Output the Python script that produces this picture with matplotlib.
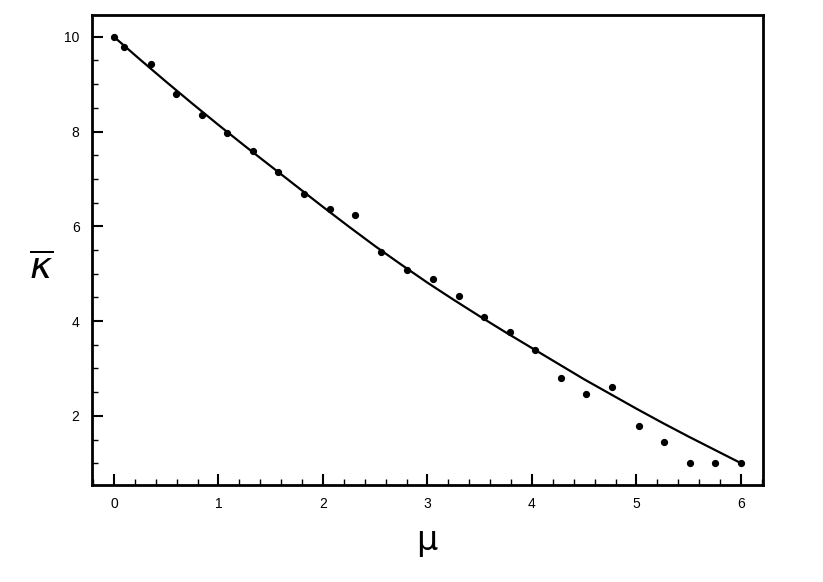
import matplotlib
matplotlib.use("Agg")
import matplotlib.pyplot as plt
from matplotlib.ticker import MultipleLocator

plt.rcParams['font.family'] = ['Liberation Sans', 'DejaVu Sans']
plt.rcParams['mathtext.fontset'] = 'dejavusans'

mu_pts = [0.0, 0.1, 0.35, 0.59, 0.84, 1.08, 1.33, 1.57, 1.82, 2.07, 2.31, 2.56, 2.80,
          3.05, 3.30, 3.54, 3.79, 4.03, 4.28, 4.52, 4.77, 5.02, 5.26, 5.51, 5.75, 6.0]
kappa_pts = [10.0, 9.79, 9.42, 8.79, 8.36, 7.96, 7.59, 7.15, 6.68, 6.37, 6.24, 5.45, 5.07,
             4.88, 4.52, 4.08, 3.77, 3.38, 2.80, 2.46, 2.61, 1.79, 1.44, 1.0, 1.0, 1.0]

# fitted curve, read at regular steps
mu_fit = [0.0, 0.25, 0.5, 0.75, 1.0, 1.25, 1.5, 1.75, 2.0, 2.25, 2.5, 2.75, 3.0, 3.25,
          3.5, 3.75, 4.0, 4.25, 4.5, 4.75, 5.0, 5.25, 5.5, 5.75, 6.0]
kappa_fit = [10.0, 9.52, 9.05, 8.59, 8.14, 7.70, 7.27, 6.84, 6.41, 5.99, 5.58, 5.19, 4.81,
             4.45, 4.10, 3.76, 3.43, 3.10, 2.77, 2.46, 2.15, 1.85, 1.56, 1.28, 1.0]

fig = plt.figure(figsize=(8.23, 5.82), dpi=100)
ax = fig.add_axes([0.1118, 0.1667, 0.8152, 0.8075])

ax.plot(mu_fit, kappa_fit, color='black', lw=1.6)
ax.plot(mu_pts, kappa_pts, 'o', color='black', ms=4.2)

ax.set_xlim(-0.21, 6.21)
ax.set_ylim(0.54, 10.46)

ax.xaxis.set_major_locator(MultipleLocator(1))
ax.xaxis.set_minor_locator(MultipleLocator(0.2))
ax.yaxis.set_major_locator(MultipleLocator(2))
ax.yaxis.set_minor_locator(MultipleLocator(0.5))

ax.tick_params(which='both', direction='in', top=False, right=False, width=1.5)
ax.tick_params(which='major', length=8, labelsize=10, pad=9)
ax.tick_params(which='minor', length=4, width=1)
for s in ax.spines.values():
    s.set_linewidth(2)

ax.set_xlabel(r'$\mathrm{\mu}$', fontsize=24, labelpad=12)
ax.set_ylabel(r'$\overline{\kappa}$', fontsize=27, rotation=0, va='center', ha='center')
ax.yaxis.set_label_coords(-0.076, 0.46)

fig.savefig('out.png', dpi=100)
